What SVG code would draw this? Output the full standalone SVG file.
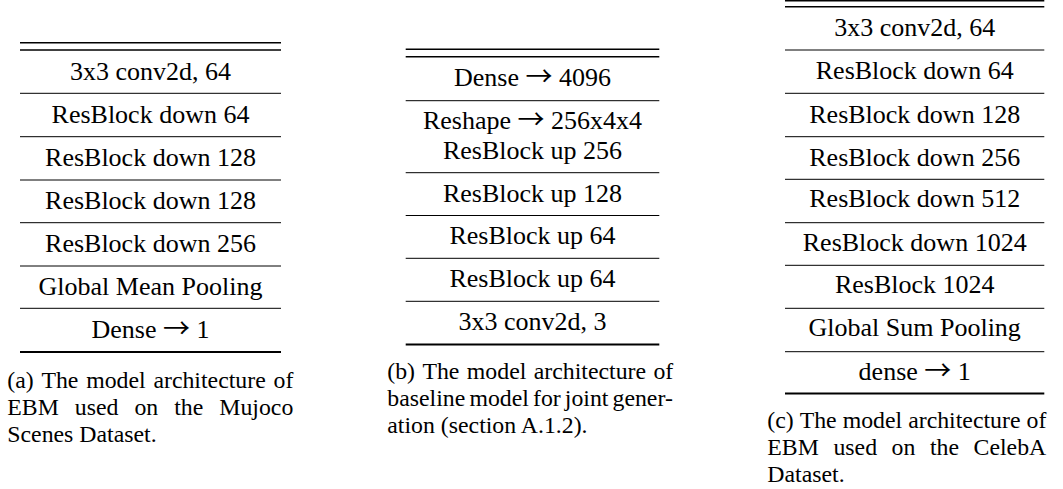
<svg xmlns="http://www.w3.org/2000/svg" width="1063" height="489" viewBox="0 0 1063 489">
  <style>
    text { font-family: "Liberation Serif", "Times New Roman", "DejaVu Serif", serif; fill: #000; }
    .cell { font-size: 26px; text-anchor: middle; }
    .arr { font-family: "Noto Sans CJK JP", "DejaVu Sans", sans-serif; font-size: 27px; }
    .cap { font-size: 23.8px; }
    .rule { stroke: #000; stroke-width: 1; fill: none; }
    .top { stroke: #000; stroke-width: 1.4; fill: none; }
    .bot { stroke: #000; stroke-width: 1.9; fill: none; }
  </style>
  <rect width="1063" height="489" fill="#fff"/>

  <!-- (a) EBM on Mujoco Scenes -->
  <g id="table-a">
    <g id="table-a-rules">
      <line class="top" x1="20" y1="42.7" x2="281" y2="42.7"/>
      <line class="top" x1="20" y1="50" x2="281" y2="50"/>
      <line class="rule" x1="20" y1="93.3" x2="281" y2="93.3"/>
      <line class="rule" x1="20" y1="136.7" x2="281" y2="136.7"/>
      <line class="rule" x1="20" y1="180" x2="281" y2="180"/>
      <line class="rule" x1="20" y1="222.7" x2="281" y2="222.7"/>
      <line class="rule" x1="20" y1="266" x2="281" y2="266"/>
      <line class="rule" x1="20" y1="308.3" x2="281" y2="308.3"/>
      <line class="bot" x1="20" y1="352" x2="281" y2="352"/>
    </g>
    <g id="a-r1"><text class="cell" x="150.5" y="79.5">3x3 conv2d, 64</text></g>
    <g id="a-r2"><text class="cell" x="150.5" y="122.7">ResBlock down 64</text></g>
    <g id="a-r3"><text class="cell" x="150.5" y="166">ResBlock down 128</text></g>
    <g id="a-r4"><text class="cell" x="150.5" y="209">ResBlock down 128</text></g>
    <g id="a-r5"><text class="cell" x="150.5" y="252">ResBlock down 256</text></g>
    <g id="a-r6"><text class="cell" x="150.5" y="295">Global Mean Pooling</text></g>
    <g id="a-r7"><text class="cell" x="150.5" y="337.5">Dense <tspan class="arr">→</tspan> 1</text></g>
  </g>
  <g id="caption-a">
    <text class="cap" y="388"><tspan x="7.3">(a)</tspan><tspan x="41.45">The</tspan><tspan x="86.19">model</tspan><tspan x="153.42">architecture</tspan><tspan x="273.49">of</tspan></text>
    <text class="cap" y="415"><tspan x="7.3">EBM</tspan><tspan x="74.84">used</tspan><tspan x="134.44">on</tspan><tspan x="174.21">the</tspan><tspan x="219.26">Mujoco</tspan></text>
    <text class="cap" x="7.3" y="442">Scenes Dataset.</text>
  </g>

  <!-- (b) baseline generator for joint generation -->
  <g id="table-b">
    <g id="table-b-rules">
      <line class="top" x1="405.7" y1="49.3" x2="659.3" y2="49.3"/>
      <line class="top" x1="405.7" y1="56.7" x2="659.3" y2="56.7"/>
      <line class="rule" x1="405.7" y1="100.7" x2="659.3" y2="100.7"/>
      <line class="rule" x1="405.7" y1="172.7" x2="659.3" y2="172.7"/>
      <line class="rule" x1="405.7" y1="215.5" x2="659.3" y2="215.5"/>
      <line class="rule" x1="405.7" y1="258.3" x2="659.3" y2="258.3"/>
      <line class="rule" x1="405.7" y1="301.3" x2="659.3" y2="301.3"/>
      <line class="bot" x1="405.7" y1="344.5" x2="659.3" y2="344.5"/>
    </g>
    <g id="b-r1"><text class="cell" x="532.5" y="86">Dense <tspan class="arr">→</tspan> 4096</text></g>
    <g id="b-r2">
      <text class="cell" x="532.5" y="129">Reshape <tspan class="arr">→</tspan> 256x4x4</text>
      <text class="cell" x="532.5" y="159">ResBlock up 256</text>
    </g>
    <g id="b-r3"><text class="cell" x="532.5" y="201.7">ResBlock up 128</text></g>
    <g id="b-r4"><text class="cell" x="532.5" y="244.3">ResBlock up 64</text></g>
    <g id="b-r5"><text class="cell" x="532.5" y="287">ResBlock up 64</text></g>
    <g id="b-r6"><text class="cell" x="532.5" y="330">3x3 conv2d, 3</text></g>
  </g>
  <g id="caption-b">
    <text class="cap" y="379"><tspan x="387.3">(b)</tspan><tspan x="422.45">The</tspan><tspan x="466.85">model</tspan><tspan x="533.75">architecture</tspan><tspan x="653.48">of</tspan></text>
    <text class="cap" y="406"><tspan x="387.3">baseline</tspan><tspan x="469.38">model</tspan><tspan x="532.96">for</tspan><tspan x="564.79">joint</tspan><tspan x="612.52">gener-</tspan></text>
    <text class="cap" x="387.3" y="433">ation (section A.1.2).</text>
  </g>

  <!-- (c) EBM on CelebA -->
  <g id="table-c">
    <g id="table-c-rules">
      <line class="top" x1="785" y1="0.8" x2="1044.3" y2="0.8"/>
      <line class="top" x1="785" y1="6.7" x2="1044.3" y2="6.7"/>
      <line class="rule" x1="785" y1="50" x2="1044.3" y2="50"/>
      <line class="rule" x1="785" y1="93.3" x2="1044.3" y2="93.3"/>
      <line class="rule" x1="785" y1="136.7" x2="1044.3" y2="136.7"/>
      <line class="rule" x1="785" y1="179.3" x2="1044.3" y2="179.3"/>
      <line class="rule" x1="785" y1="222.7" x2="1044.3" y2="222.7"/>
      <line class="rule" x1="785" y1="265.3" x2="1044.3" y2="265.3"/>
      <line class="rule" x1="785" y1="308.3" x2="1044.3" y2="308.3"/>
      <line class="rule" x1="785" y1="351.7" x2="1044.3" y2="351.7"/>
      <line class="bot" x1="785" y1="393.5" x2="1044.3" y2="393.5"/>
    </g>
    <g id="c-r1"><text class="cell" x="914.7" y="36.3">3x3 conv2d, 64</text></g>
    <g id="c-r2"><text class="cell" x="914.7" y="79.3">ResBlock down 64</text></g>
    <g id="c-r3"><text class="cell" x="914.7" y="122.5">ResBlock down 128</text></g>
    <g id="c-r4"><text class="cell" x="914.7" y="165.5">ResBlock down 256</text></g>
    <g id="c-r5"><text class="cell" x="914.7" y="206.5">ResBlock down 512</text></g>
    <g id="c-r6"><text class="cell" x="914.7" y="251">ResBlock down 1024</text></g>
    <g id="c-r7"><text class="cell" x="914.7" y="292.5">ResBlock 1024</text></g>
    <g id="c-r8"><text class="cell" x="914.7" y="336">Global Sum Pooling</text></g>
    <g id="c-r9"><text class="cell" x="914.7" y="379.5">dense <tspan class="arr">→</tspan> 1</text></g>
  </g>
  <g id="caption-c">
    <text class="cap" y="428"><tspan x="767.3">(c)</tspan><tspan x="799.7">The</tspan><tspan x="842.69">model</tspan><tspan x="908.17">architecture</tspan><tspan x="1026.49">of</tspan></text>
    <text class="cap" y="455"><tspan x="767.3">EBM</tspan><tspan x="833.42">used</tspan><tspan x="891.6">on</tspan><tspan x="929.95">the</tspan><tspan x="973.58">CelebA</tspan></text>
    <text class="cap" x="767.3" y="482">Dataset.</text>
  </g>
</svg>
